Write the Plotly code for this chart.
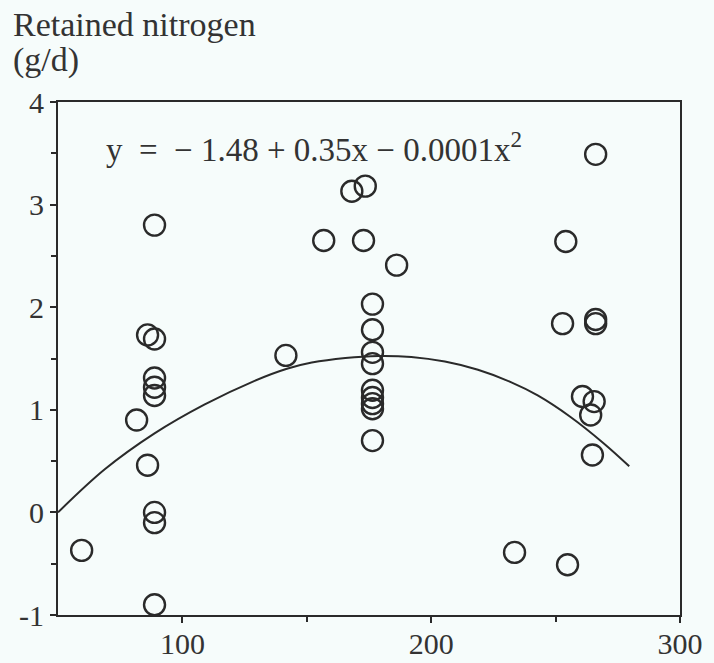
import plotly.graph_objects as go

# Observed data points (intake x, retained nitrogen g/d)
obs_x = [59.5, 88.8, 88.8, 88.8, 86.0, 81.6, 88.8, 88.8, 88.8, 86.0, 88.8, 88.8,
         141.6, 156.8, 168.1, 173.5, 172.8, 186.1,
         176.4, 176.4, 176.4, 176.4, 176.4, 176.4, 176.4, 176.4, 176.4,
         233.5, 254.8, 254.1, 252.8, 266.1, 266.1, 260.8, 265.5, 264.1, 264.8, 266.1]
obs_y = [-0.37, -0.90, 0.00, -0.10, 0.46, 0.90, 1.14, 1.22, 1.31, 1.73, 1.69, 2.80,
         1.53, 2.65, 3.13, 3.18, 2.65, 2.41,
         2.03, 1.78, 1.56, 1.45, 1.19, 1.12, 1.06, 1.01, 0.70,
         -0.39, -0.51, 2.64, 1.84, 1.84, 1.88, 1.13, 1.08, 0.95, 0.56, 3.49]

# Fitted curve
curve_x = [50.0, 68.8, 88.8, 108.8, 128.8, 142.0, 152.0, 165.5, 178.8, 192.0,
           205.5, 218.8, 232.0, 242.8, 256.0, 269.5, 279.6]
curve_y = [0.00, 0.42, 0.77, 1.05, 1.28, 1.40, 1.46, 1.505, 1.525, 1.515,
           1.47, 1.39, 1.27, 1.14, 0.93, 0.67, 0.45]

x_ticks = [100, 200, 300]
x_labels = ["100", "200", "300"]
y_ticks = [-1, 0, 1, 2, 3, 4]
y_labels = ["-1", "0", "1", "2", "3", "4"]

FONT = "Liberation Serif"
INK = "#2a2a2a"

fig = go.Figure()
fig.add_trace(go.Scatter(x=curve_x, y=curve_y, mode="lines",
                         line=dict(color=INK, width=2, shape="spline", smoothing=1.0),
                         hoverinfo="skip", showlegend=False))
fig.add_trace(go.Scatter(x=obs_x, y=obs_y, mode="markers",
                         marker=dict(symbol="circle-open", size=21, color=INK, line=dict(width=2.4, color=INK)),
                         showlegend=False))

fig.update_layout(
    width=714, height=663,
    margin=dict(l=58, r=34, t=102, b=48),
    paper_bgcolor="#f6fcfb", plot_bgcolor="#f6fcfb",
    font=dict(family=FONT, size=30, color="#333333"),
    annotations=[
        dict(text="Retained nitrogen", xref="paper", yref="paper", x=-0.075, y=(615 - 25) / 513,
             xanchor="left", yanchor="middle", showarrow=False, font=dict(size=34, family=FONT, color="#333")),
        dict(text="(g/d)", xref="paper", yref="paper", x=-0.075, y=(615 - 60) / 513,
             xanchor="left", yanchor="middle", showarrow=False, font=dict(size=34, family=FONT, color="#333")),
        dict(text="y  =  − 1.48 + 0.35x − 0.0001x<sup>2</sup>", xref="paper", yref="paper",
             x=(104 - 58) / 622, y=(615 - 147) / 513, xanchor="left", yanchor="middle",
             showarrow=False, font=dict(size=33, family=FONT, color="#333")),
    ],
)
fig.update_xaxes(range=[50, 300], tickvals=x_ticks, ticktext=x_labels, ticks="outside", ticklen=6,
                 tickwidth=2, tickcolor=INK, showline=True, linecolor=INK, linewidth=2, mirror=True,
                 showgrid=False, zeroline=False, automargin=False, ticklabelstandoff=-5,
                 minor=dict(tickvals=[150, 250], ticks="outside", ticklen=5, tickwidth=2, tickcolor=INK))
fig.update_yaxes(range=[-1, 4], tickvals=y_ticks, ticktext=y_labels, ticks="outside", ticklen=6,
                 tickwidth=2, tickcolor=INK, showline=True, linecolor=INK, linewidth=2, mirror=True,
                 showgrid=False, zeroline=False, automargin=False,
                 minor=dict(tickvals=[-0.5, 0.5, 1.5, 2.5, 3.5], ticks="outside", ticklen=5, tickwidth=2, tickcolor=INK))

fig.write_html("out.html")
